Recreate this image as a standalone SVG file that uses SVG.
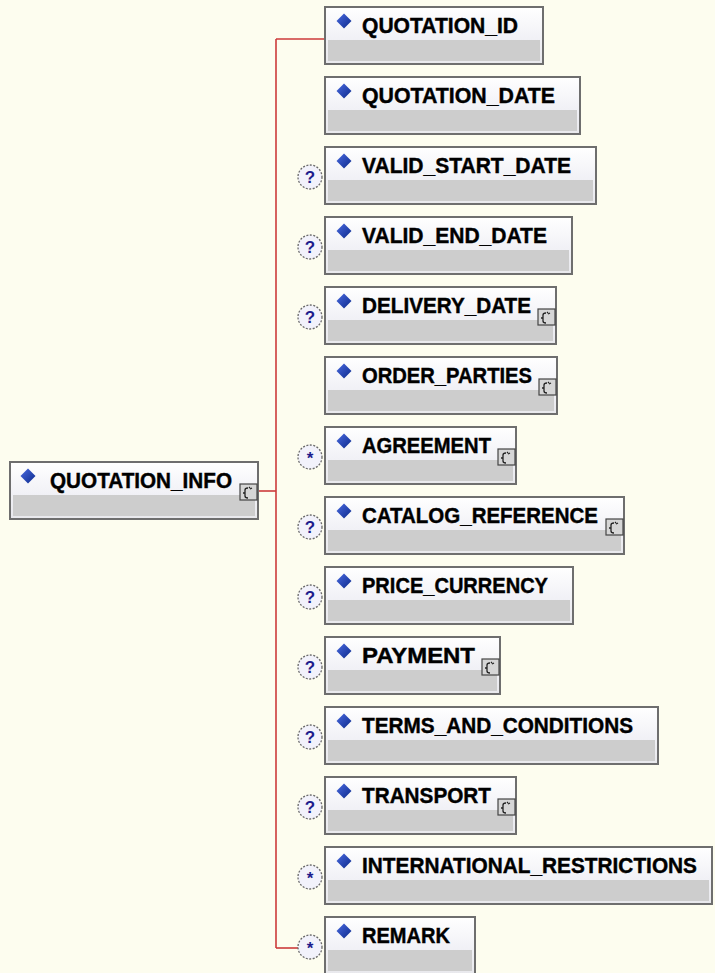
<svg xmlns="http://www.w3.org/2000/svg" xmlns:xlink="http://www.w3.org/1999/xlink" width="715" height="973" viewBox="0 0 715 973">
<style>
.bg{fill:#fdfdef}
.box{fill:url(#tg);stroke:#6e6e6e;stroke-width:2}
.band{fill:#cdcdcd}
.lbl{font-family:"Liberation Sans",Arial,sans-serif;font-weight:bold;font-size:21.5px;fill:#000;stroke:#000;stroke-width:0.4}
.occ{fill:#f2f2fb;stroke:#6a6a6a;stroke-width:1.3;stroke-dasharray:2 1.5}
.occt{font-family:"Liberation Sans",Arial,sans-serif;font-weight:bold;font-size:17px;fill:#1c1c8c;text-anchor:middle}
.conn{fill:none;stroke:#cc3a3a;stroke-width:1.6}
.ico{fill:#d6d6d6;stroke:#444;stroke-width:1.2}
.icop{fill:none;stroke:#222;stroke-width:1.3}
</style>
<defs>
<linearGradient id="tg" x1="0" y1="0" x2="0" y2="1">
<stop offset="0" stop-color="#ffffff"/>
<stop offset="0.55" stop-color="#f1f1f6"/>
<stop offset="1" stop-color="#e8e8ec"/>
</linearGradient>
<linearGradient id="dg" x1="0" y1="0" x2="1" y2="1">
<stop offset="0" stop-color="#4a6ae0"/>
<stop offset="1" stop-color="#0c2a8c"/>
</linearGradient>
<path id="dia" d="M0,-7.5 L7.5,0 L0,7.5 L-7.5,0 Z" fill="url(#dg)"/>
<g id="cm">
<rect class="ico" x="0" y="0" width="17" height="16"/>
<path class="icop" d="M5,12 V6 M5,9 H3 M5,6 Q5,4 8,4 M5,12 Q5,14 8,14 M9,4 L10,3 M10,5 L12,4"/>
</g>
</defs>
<rect class="bg" x="0" y="0" width="715" height="973"/>

<g id="connectors">
<path class="conn" d="M276,39 V948"/>
<path class="conn" d="M257,491 H276"/>
<path class="conn" d="M276,39 H325"/>
<path class="conn" d="M276,948 H298"/>
</g>

<g id="QUOTATION_INFO">
<rect class="box" x="10" y="462" width="248" height="57"/>
<rect class="band" x="13" y="495" width="242" height="21"/>
<use xlink:href="#dia" x="28" y="476"/>
<text class="lbl" x="50" y="488" textLength="182" lengthAdjust="spacingAndGlyphs">QUOTATION_INFO</text>
<use xlink:href="#cm" x="240" y="484"/>
</g>

<g id="QUOTATION_ID">
<rect class="box" x="325" y="7" width="218" height="57"/>
<rect class="band" x="328" y="40" width="212" height="21"/>
<use xlink:href="#dia" x="344" y="21"/>
<text class="lbl" x="362" y="33" textLength="156" lengthAdjust="spacingAndGlyphs">QUOTATION_ID</text>
</g>

<g id="QUOTATION_DATE">
<rect class="box" x="325" y="77" width="255" height="57"/>
<rect class="band" x="328" y="110" width="249" height="21"/>
<use xlink:href="#dia" x="344" y="91"/>
<text class="lbl" x="362" y="103" textLength="193" lengthAdjust="spacingAndGlyphs">QUOTATION_DATE</text>
</g>

<g id="VALID_START_DATE">
<rect class="box" x="325" y="147" width="271" height="57"/>
<rect class="band" x="328" y="180" width="265" height="21"/>
<use xlink:href="#dia" x="344" y="161"/>
<text class="lbl" x="362" y="173" textLength="209" lengthAdjust="spacingAndGlyphs">VALID_START_DATE</text>
<circle class="occ" cx="310" cy="177" r="12"/>
<text class="occt" x="310" y="183">?</text>
</g>

<g id="VALID_END_DATE">
<rect class="box" x="325" y="217" width="247" height="57"/>
<rect class="band" x="328" y="250" width="241" height="21"/>
<use xlink:href="#dia" x="344" y="231"/>
<text class="lbl" x="362" y="243" textLength="185" lengthAdjust="spacingAndGlyphs">VALID_END_DATE</text>
<circle class="occ" cx="310" cy="247" r="12"/>
<text class="occt" x="310" y="253">?</text>
</g>

<g id="DELIVERY_DATE">
<rect class="box" x="325" y="287" width="231" height="57"/>
<rect class="band" x="328" y="320" width="225" height="21"/>
<use xlink:href="#dia" x="344" y="301"/>
<text class="lbl" x="362" y="313" textLength="169" lengthAdjust="spacingAndGlyphs">DELIVERY_DATE</text>
<use xlink:href="#cm" x="538" y="309"/>
<circle class="occ" cx="310" cy="317" r="12"/>
<text class="occt" x="310" y="323">?</text>
</g>

<g id="ORDER_PARTIES">
<rect class="box" x="325" y="357" width="232" height="57"/>
<rect class="band" x="328" y="390" width="226" height="21"/>
<use xlink:href="#dia" x="344" y="371"/>
<text class="lbl" x="362" y="383" textLength="170" lengthAdjust="spacingAndGlyphs">ORDER_PARTIES</text>
<use xlink:href="#cm" x="539" y="379"/>
</g>

<g id="AGREEMENT">
<rect class="box" x="325" y="427" width="191" height="57"/>
<rect class="band" x="328" y="460" width="185" height="21"/>
<use xlink:href="#dia" x="344" y="441"/>
<text class="lbl" x="362" y="453" textLength="129" lengthAdjust="spacingAndGlyphs">AGREEMENT</text>
<use xlink:href="#cm" x="498" y="449"/>
<circle class="occ" cx="310" cy="457" r="12"/>
<text class="occt" x="310" y="464">*</text>
</g>

<g id="CATALOG_REFERENCE">
<rect class="box" x="325" y="497" width="299" height="57"/>
<rect class="band" x="328" y="530" width="293" height="21"/>
<use xlink:href="#dia" x="344" y="511"/>
<text class="lbl" x="362" y="523" textLength="236" lengthAdjust="spacingAndGlyphs">CATALOG_REFERENCE</text>
<use xlink:href="#cm" x="606" y="519"/>
<circle class="occ" cx="310" cy="527" r="12"/>
<text class="occt" x="310" y="533">?</text>
</g>

<g id="PRICE_CURRENCY">
<rect class="box" x="325" y="567" width="248" height="57"/>
<rect class="band" x="328" y="600" width="242" height="21"/>
<use xlink:href="#dia" x="344" y="581"/>
<text class="lbl" x="362" y="593" textLength="186" lengthAdjust="spacingAndGlyphs">PRICE_CURRENCY</text>
<circle class="occ" cx="310" cy="597" r="12"/>
<text class="occt" x="310" y="603">?</text>
</g>

<g id="PAYMENT">
<rect class="box" x="325" y="637" width="175" height="57"/>
<rect class="band" x="328" y="670" width="169" height="21"/>
<use xlink:href="#dia" x="344" y="651"/>
<text class="lbl" x="362" y="663" textLength="113" lengthAdjust="spacingAndGlyphs">PAYMENT</text>
<use xlink:href="#cm" x="482" y="659"/>
<circle class="occ" cx="310" cy="667" r="12"/>
<text class="occt" x="310" y="673">?</text>
</g>

<g id="TERMS_AND_CONDITIONS">
<rect class="box" x="325" y="707" width="333" height="57"/>
<rect class="band" x="328" y="740" width="327" height="21"/>
<use xlink:href="#dia" x="344" y="721"/>
<text class="lbl" x="362" y="733" textLength="271" lengthAdjust="spacingAndGlyphs">TERMS_AND_CONDITIONS</text>
<circle class="occ" cx="310" cy="737" r="12"/>
<text class="occt" x="310" y="743">?</text>
</g>

<g id="TRANSPORT">
<rect class="box" x="325" y="777" width="191" height="57"/>
<rect class="band" x="328" y="810" width="185" height="21"/>
<use xlink:href="#dia" x="344" y="791"/>
<text class="lbl" x="362" y="803" textLength="129" lengthAdjust="spacingAndGlyphs">TRANSPORT</text>
<use xlink:href="#cm" x="498" y="799"/>
<circle class="occ" cx="310" cy="807" r="12"/>
<text class="occt" x="310" y="813">?</text>
</g>

<g id="INTERNATIONAL_RESTRICTIONS">
<rect class="box" x="325" y="847" width="387" height="57"/>
<rect class="band" x="328" y="880" width="381" height="21"/>
<use xlink:href="#dia" x="344" y="861"/>
<text class="lbl" x="362" y="873" textLength="335" lengthAdjust="spacingAndGlyphs">INTERNATIONAL_RESTRICTIONS</text>
<circle class="occ" cx="310" cy="877" r="12"/>
<text class="occt" x="310" y="884">*</text>
</g>

<g id="REMARK">
<rect class="box" x="325" y="917" width="150" height="57"/>
<rect class="band" x="328" y="950" width="144" height="21"/>
<use xlink:href="#dia" x="344" y="931"/>
<text class="lbl" x="362" y="943" textLength="88" lengthAdjust="spacingAndGlyphs">REMARK</text>
<circle class="occ" cx="310" cy="947" r="12"/>
<text class="occt" x="310" y="954">*</text>
</g>
</svg>
